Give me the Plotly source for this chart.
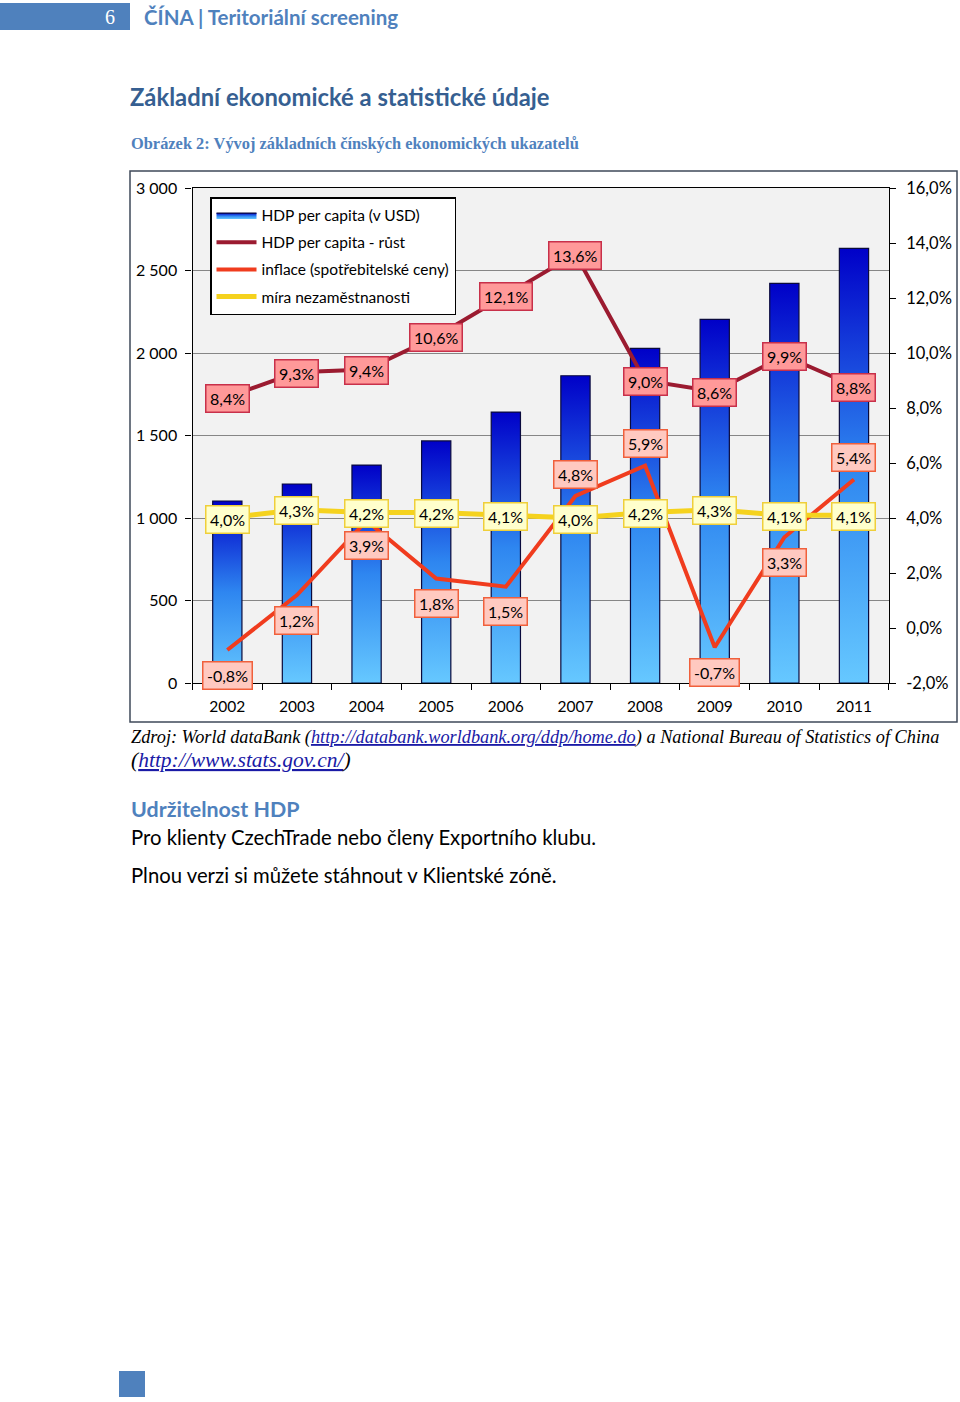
import plotly.graph_objects as go

# ---------------- data ----------------
years = ["2002", "2003", "2004", "2005", "2006", "2007", "2008", "2009", "2010", "2011"]
gdp_per_capita = [1103, 1206, 1321, 1467, 1642, 1862, 2028, 2204, 2422, 2634]
gdp_growth = [8.4, 9.3, 9.4, 10.6, 12.1, 13.6, 9.0, 8.6, 9.9, 8.8]
inflation = [-0.8, 1.2, 3.9, 1.8, 1.5, 4.8, 5.9, -0.7, 3.3, 5.4]
unemployment = [4.0, 4.3, 4.2, 4.2, 4.1, 4.0, 4.2, 4.3, 4.1, 4.1]

left_ticks = [0, 500, 1000, 1500, 2000, 2500, 3000]
left_ticktext = ["0", "500", "1 000", "1 500", "2 000", "2 500", "3 000"]
right_ticks = [-2, 0, 2, 4, 6, 8, 10, 12, 14, 16]
right_ticktext = ["-2,0%", "0,0%", "2,0%", "4,0%", "6,0%", "8,0%", "10,0%", "12,0%", "14,0%", "16,0%"]

legend_names = ["HDP per capita (v USD)", "HDP per capita - růst",
                "inflace (spotřebitelské ceny)", "míra nezaměstnanosti"]

# label placement style for inflation labels (above / below the point)
INFL_LABEL_POS = ["below", "below", "below", "below", "below", "above", "above", "below", "below", "above"]

# ---------------- styles ----------------
FONT = "Lato, 'Open Sans', sans-serif"
BLUE_HDR = "#4F81BD"
C_GROWTH = "#9B1B30"
C_INFL = "#F03C1E"
C_UNEMP = "#F5D21E"
BAR_HALF = 0.21

W, H = 960, 1402
def px(x):
    return x / W
def py(y):
    return 1 - y / H

fig = go.Figure()

x_idx = list(range(len(years)))

# bars drawn as gradient-filled rectangles on the library's axes
for i, v in enumerate(gdp_per_capita):
    fig.add_trace(go.Scatter(
        x=[i - BAR_HALF, i + BAR_HALF, i + BAR_HALF, i - BAR_HALF, i - BAR_HALF],
        y=[0, 0, v, v, 0],
        mode="lines", fill="toself",
        fillgradient=dict(type="vertical",
                          colorscale=[[0, "#66C8FF"], [0.5, "#2E86F0"], [1, "#0000C8"]]),
        line=dict(color="#0A0A3C", width=1.2),
        name=legend_names[0], legendgroup="g0",
        showlegend=(i == 0), hoverinfo="skip",
        xaxis="x", yaxis="y",
    ))

fig.add_trace(go.Scatter(x=x_idx, y=gdp_growth, mode="lines",
                         line=dict(color=C_GROWTH, width=4),
                         name=legend_names[1], legendgroup="g1", yaxis="y2"))
fig.add_trace(go.Scatter(x=x_idx, y=inflation, mode="lines",
                         line=dict(color=C_INFL, width=4),
                         name=legend_names[2], legendgroup="g2", yaxis="y2"))
fig.add_trace(go.Scatter(x=x_idx, y=unemployment, mode="lines",
                         line=dict(color=C_UNEMP, width=5),
                         name=legend_names[3], legendgroup="g3", yaxis="y2"))

def pct(v):
    return f"{v:.1f}%".replace(".", ",")

LBL_FONT = dict(family=FONT, size=16, color="black")
annotations = []
for i, v in enumerate(unemployment):
    annotations.append(dict(x=i, y=v, xref="x", yref="y2", text=pct(v), showarrow=False,
                            font=LBL_FONT, bgcolor="#FFFFCC", bordercolor="#EFCF3A", borderwidth=1.5,
                            borderpad=3.5, yshift=-1))
for i, v in enumerate(inflation):
    shift = -25 if INFL_LABEL_POS[i] == "below" else 22
    annotations.append(dict(x=i, y=v, xref="x", yref="y2", text=pct(v), showarrow=False,
                            font=LBL_FONT, bgcolor="#FFC9C0", bordercolor="#F0603C", borderwidth=1.5,
                            borderpad=3.5, yshift=shift))
for i, v in enumerate(gdp_growth):
    annotations.append(dict(x=i, y=v, xref="x", yref="y2", text=pct(v), showarrow=False,
                            font=LBL_FONT, bgcolor="#FF9999", bordercolor="#C8304A", borderwidth=1.5,
                            borderpad=3.5, yshift=-1))

# page texts
annotations += [
    dict(x=px(110), y=py(17), xref="paper", yref="paper", text="6", showarrow=False,
         font=dict(family="Liberation Serif, serif", size=20, color="white"), xanchor="center", yanchor="middle"),
    dict(x=px(142), y=py(17), xref="paper", yref="paper", text="<b>ČÍNA | Teritoriální screening</b>",
         showarrow=False, font=dict(family=FONT, size=20.5, color=BLUE_HDR), xanchor="left", yanchor="middle"),
    dict(x=px(128), y=py(97), xref="paper", yref="paper", text="<b>Základní ekonomické a statistické údaje</b>",
         showarrow=False, font=dict(family=FONT, size=23.8, color="#365F91"), xanchor="left", yanchor="middle"),
    dict(x=px(129), y=py(144), xref="paper", yref="paper",
         text="<b>Obrázek 2: Vývoj základních čínských ekonomických ukazatelů</b>",
         showarrow=False, font=dict(family="Liberation Serif, serif", size=16.4, color=BLUE_HDR),
         xanchor="left", yanchor="middle"),
    dict(x=px(129), y=py(737), xref="paper", yref="paper",
         text="<i>Zdroj: World dataBank (<span style='color:#1A1AA6;text-decoration:underline'>http://databank.worldbank.org/ddp/home.do</span>) a National Bureau of Statistics of China</i>",
         showarrow=False, font=dict(family="Liberation Serif, serif", size=18.3, color="black"),
         xanchor="left", yanchor="middle"),
    dict(x=px(129), y=py(760), xref="paper", yref="paper",
         text="<i>(<span style='color:#1A1AA6;text-decoration:underline'>http://www.stats.gov.cn/</span>)</i>",
         showarrow=False, font=dict(family="Liberation Serif, serif", size=21.5, color="black"),
         xanchor="left", yanchor="middle"),
    dict(x=px(129), y=py(809), xref="paper", yref="paper", text="<b>Udržitelnost HDP</b>",
         showarrow=False, font=dict(family=FONT, size=21.4, color=BLUE_HDR), xanchor="left", yanchor="middle"),
    dict(x=px(129), y=py(837), xref="paper", yref="paper", text="Pro klienty CzechTrade nebo členy Exportního klubu.",
         showarrow=False, font=dict(family=FONT, size=20.3, color="black"), xanchor="left", yanchor="middle"),
    dict(x=px(129), y=py(875), xref="paper", yref="paper", text="Plnou verzi si můžete stáhnout v Klientské zóně.",
         showarrow=False, font=dict(family=FONT, size=20.3, color="black"), xanchor="left", yanchor="middle"),
]

shapes = [
    dict(type="rect", xref="paper", yref="paper", x0=px(0), x1=px(130), y0=py(30), y1=py(3),
         fillcolor=BLUE_HDR, line=dict(width=0), layer="below"),
    dict(type="rect", xref="paper", yref="paper", x0=px(130), x1=px(957), y0=py(722), y1=py(171),
         fillcolor="rgba(0,0,0,0)", line=dict(color="#3F4A5A", width=1.5), layer="below"),
    dict(type="rect", xref="paper", yref="paper", x0=px(119), x1=px(145), y0=py(1397), y1=py(1371),
         fillcolor=BLUE_HDR, line=dict(width=0), layer="below"),
]

fig.update_layout(
    width=W, height=H,
    margin=dict(l=0, r=0, t=0, b=0, pad=0, autoexpand=False),
    paper_bgcolor="white",
    plot_bgcolor="#F2F2F2",
    showlegend=True,
    legend=dict(x=px(210), y=py(197), xanchor="left", yanchor="top",
                xref="paper", yref="paper",
                bgcolor="white", bordercolor="black", borderwidth=1.5,
                font=dict(family=FONT, size=15.5, color="black"),
                traceorder="grouped", tracegroupgap=4, itemwidth=40),
    xaxis=dict(domain=[px(192.5), px(888.8)], range=[-0.5, 9.5], automargin=False,
               tickmode="array", tickvals=x_idx, ticktext=years, ticks="",
               tickfont=dict(family=FONT, size=15.5, color="black"), ticklabelstandoff=9,
               showgrid=False, zeroline=False,
               showline=True, linecolor="black", linewidth=1.2, mirror=True,
               minor=dict(ticks="outside", tickmode="linear", tick0=-0.5, dtick=1,
                          ticklen=6, tickcolor="black", showgrid=False),
               anchor="y"),
    yaxis=dict(domain=[py(683), py(188)], range=[0, 3000], automargin=False,
               tickmode="array", tickvals=left_ticks, ticktext=left_ticktext,
               ticks="outside", ticklen=6, tickcolor="black",
               tickfont=dict(family=FONT, size=16, color="black"), ticklabelstandoff=5,
               showgrid=True, gridcolor="#868686", gridwidth=1, zeroline=False,
               showline=True, linecolor="black", linewidth=1.2, anchor="x"),
    yaxis2=dict(domain=[py(683), py(188)], range=[-2, 16], overlaying="y", side="right",
                automargin=False,
                tickmode="array", tickvals=right_ticks, ticktext=right_ticktext,
                ticks="outside", ticklen=6, tickcolor="black",
                tickfont=dict(family=FONT, size=16.5, color="black"), ticklabelstandoff=7,
                showgrid=False, zeroline=False,
                showline=True, linecolor="black", linewidth=1.2, anchor="x"),
    annotations=annotations,
    shapes=shapes,
)

fig.write_html("out.html", config={"displayModeBar": False},
               post_script="document.body.style.margin='0px';")
